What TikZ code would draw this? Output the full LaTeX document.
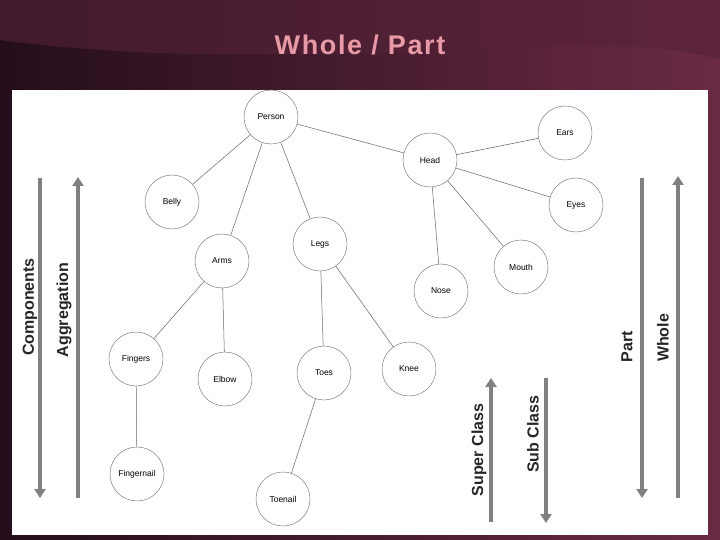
\documentclass[tikz,border=0pt]{standalone}
\usepackage{fontspec}
\setmainfont{Liberation Sans}
\newfontfamily\titlefont[LetterSpace=6]{Liberation Sans}
\usetikzlibrary{arrows.meta}
\definecolor{bgdark}{HTML}{240E1A}
\definecolor{bglight}{HTML}{6A2A44}
\definecolor{titlepink}{HTML}{E89AA6}
\definecolor{arrowgray}{HTML}{808080}
\tikzset{
  part/.style={circle,draw=black!60,fill=white,minimum size=54pt,inner sep=0pt,font=\fontsize{8.5}{10}\selectfont},
  link/.style={draw=black!60,line width=0.5pt},
  bigarrow/.style={draw=arrowgray,line width=3.5pt,-{Triangle[length=9pt,width=11pt]}},
  side/.style={font=\bfseries\fontsize{16}{19}\selectfont,rotate=90,text=black!85}
}
\begin{document}
\begin{tikzpicture}[x=1pt,y=-1pt]
\useasboundingbox (0,0) rectangle (720,540);
\shade[left color=bgdark,right color=bglight] (0,0) rectangle (720,540);
\fill[bglight!70!bgdark,opacity=0.6] (0,0) -- (720,0) -- (720,60) .. controls (600,20) and (300,80) .. (0,40) -- cycle;
\node[font=\titlefont\bfseries\fontsize{27}{32}\selectfont,text=titlepink] (title) at (360,45) {Whole / Part};
\fill[white] (12,90) rectangle (708,535);
% nodes
\node[part] (person) at (271,117) {Person};
\node[part] (ears) at (565,133) {Ears};
\node[part] (head) at (430,160) {Head};
\node[part] (belly) at (172,202) {Belly};
\node[part] (eyes) at (576,205) {Eyes};
\node[part] (legs) at (320,244) {Legs};
\node[part] (arms) at (222,261) {Arms};
\node[part] (mouth) at (521,267) {Mouth};
\node[part] (nose) at (441,291) {Nose};
\node[part] (fingers) at (136,359) {Fingers};
\node[part] (elbow) at (225,379) {Elbow};
\node[part] (toes) at (324,373) {Toes};
\node[part] (knee) at (409,369) {Knee};
\node[part] (fingernail) at (137,474) {Fingernail};
\node[part] (toenail) at (283,499) {Toenail};
\foreach \a/\b in {person/head,head/ears,head/eyes,head/nose,head/mouth,person/belly,person/arms,person/legs,arms/fingers,arms/elbow,fingers/fingernail,legs/toes,legs/knee,toes/toenail}
  \draw[link] (\a) -- (\b);
% side arrows
\coordinate (c1) at (40,178); \coordinate (c2) at (40,498);
\draw[bigarrow] (c1) -- (c2);
\coordinate (a1) at (78,498); \coordinate (a2) at (78,177);
\draw[bigarrow] (a1) -- (a2);
\node[side] (comp) at (30,307) {Components};
\node[side] (aggr) at (64,310) {Aggregation};
\coordinate (s1) at (491,522); \coordinate (s2) at (491,378);
\draw[bigarrow] (s1) -- (s2);
\coordinate (b1) at (546,378); \coordinate (b2) at (546,523);
\draw[bigarrow] (b1) -- (b2);
\node[side] (sup) at (479,450) {Super Class};
\node[side] (sub) at (533,434) {Sub Class};
\coordinate (p1) at (642,178); \coordinate (p2) at (642,498);
\draw[bigarrow] (p1) -- (p2);
\coordinate (w1) at (678,498); \coordinate (w2) at (678,176);
\draw[bigarrow] (w1) -- (w2);
\node[side] (part) at (627,347) {Part};
\node[side] (whole) at (663,338) {Whole};
\end{tikzpicture}
\end{document}
